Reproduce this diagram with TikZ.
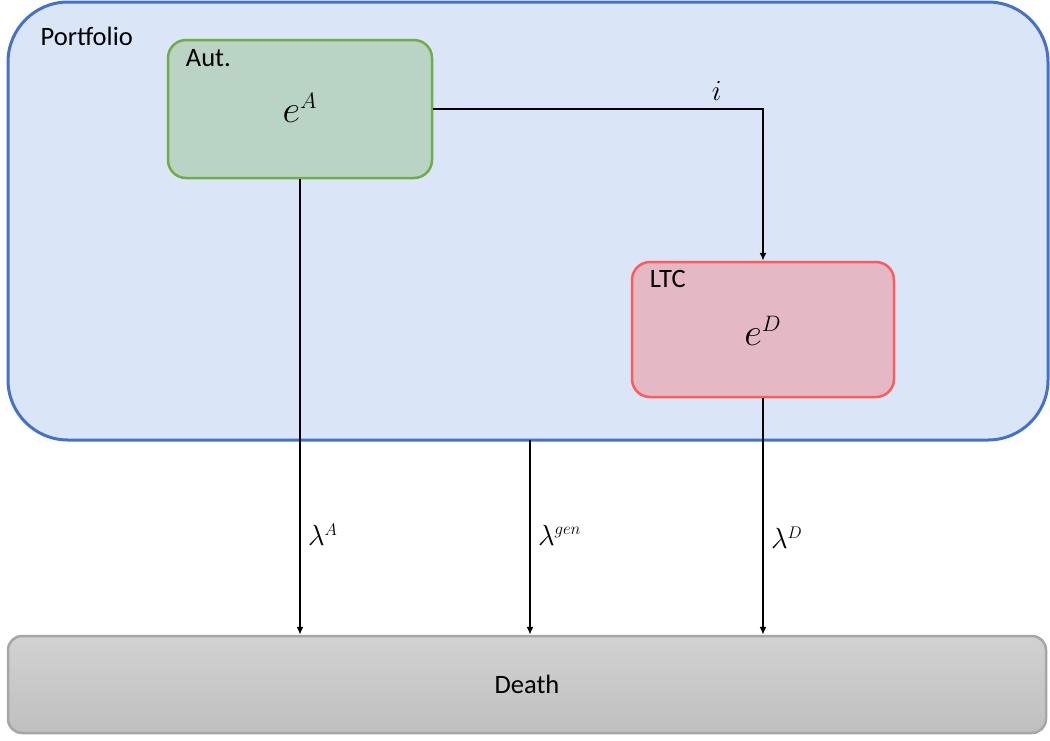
\documentclass[tikz,border=0pt]{standalone}
\usepackage{fontspec}
\setmainfont{Carlito}
\usetikzlibrary{arrows.meta,positioning,calc}
\definecolor{portfill}{HTML}{DAE6F8}
\definecolor{portdraw}{HTML}{4472C4}
\definecolor{autfill}{HTML}{B9D4C4}
\definecolor{autdraw}{HTML}{70AD47}
\definecolor{ltcfill}{HTML}{E4B8C4}
\definecolor{ltcdraw}{HTML}{FF5B5B}
\definecolor{deathtop}{HTML}{D2D2D2}
\definecolor{deathbot}{HTML}{BFBFBF}
\definecolor{deathdraw}{HTML}{A6A6A6}
\newcommand\supmath[3]{\scalebox{#3}{\Huge$#1^{\hbox{\fontsize{14.4}{16}\selectfont$#2$}}$}}
\tikzset{
  box/.style={rectangle, inner sep=0pt},
  title/.style={anchor=base west, inner sep=0pt, font=\fontsize{26.5}{30}\selectfont},
  bigmath/.style={inner sep=0pt},
  lab/.style={inner sep=0pt},
  conn/.style={line width=2pt, -{Latex[length=8pt,width=7pt]}},
}
\begin{document}
\begin{tikzpicture}[x=1pt,y=-1pt]
\useasboundingbox (0,0) rectangle (1050,740);
\node[box, draw=portdraw, fill=portfill, line width=3pt, rounded corners=60pt,
  minimum width=1040pt, minimum height=438pt] (port) at (528,221) {};
\node[box, draw=autdraw, fill=autfill, line width=2.5pt, rounded corners=18pt,
  minimum width=264pt, minimum height=138pt] (aut) at (300,109) {};
\node[box, draw=ltcdraw, fill=ltcfill, line width=2.5pt, rounded corners=18pt,
  minimum width=262pt, minimum height=135pt] (ltc) at (763,329.5) {};
\node[box, draw=deathdraw, top color=deathtop, bottom color=deathbot, line width=2.5pt, rounded corners=14pt,
  minimum width=1038pt, minimum height=97pt] (death) at (527,684.5) {};
\node[title] (porttitle) at ([shift={(34,45)}]port.north west) {Portfolio};
\node[title] (auttitle) at ([shift={(19,28)}]aut.north west) {Aut.};
\node[title] (ltctitle) at ([shift={(19,27)}]ltc.north west) {LTC};
\node[bigmath] (eA) at ([yshift=1pt]aut.center) {\supmath{e}{A}{1.55}};
\node[bigmath] (eD) at ([yshift=-1pt]ltc.center) {\supmath{e}{D}{1.55}};
\node[title, anchor=center] (deathtitle) at (death.center) {Death};
\coordinate (autdown) at (aut.south);
\coordinate (portdown) at (530,440);
\coordinate (ltcdown) at (ltc.south);
\draw[conn] (aut.east) -| (ltc.north) node[pos=0.43, lab, anchor=south, yshift=8pt] (ilab) {\scalebox{1.17}{\Huge$i$}};
\draw[conn] (autdown) -- (autdown |- death.north) node[pos=0.78, lab, anchor=west, xshift=7pt] (lA) {\supmath{\lambda}{A}{1.17}};
\draw[conn] (portdown) -- (portdown |- death.north) node[pos=0.49, lab, anchor=west, xshift=7pt] (lgen) {\supmath{\lambda}{gen}{1.17}};
\draw[conn] (ltcdown) -- (ltcdown |- death.north) node[pos=0.59, lab, anchor=west, xshift=7pt] (lD) {\supmath{\lambda}{D}{1.17}};
\end{tikzpicture}
\end{document}
